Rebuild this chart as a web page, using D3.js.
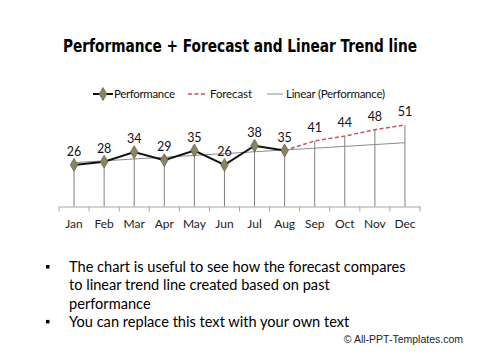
<!DOCTYPE html>
<html>
<head>
<meta charset="utf-8">
<script src="https://cdn.jsdelivr.net/npm/d3@7"></script>
<style>
  html, body { margin: 0; padding: 0; background: #fff; }
  svg { display: block; }
</style>
</head>
<body>
<svg id="chart" width="480" height="360"></svg>
<script>
const months = ["Jan","Feb","Mar","Apr","May","Jun","Jul","Aug","Sep","Oct","Nov","Dec"];
const performance = [26, 28, 34, 29, 35, 26, 38, 35];
const forecastMonths = ["Aug","Sep","Oct","Nov","Dec"];
const forecast = [35, 41, 44, 48, 51];
const legendLabels = ["Performance", "Forecast", "Linear (Performance)"];
const titleText = "Performance + Forecast and Linear Trend line";
const bullets = [
  ["The chart is useful to see how the forecast compares", "to linear trend line created based on past", "performance"],
  ["You can replace this text with your own text"]
];
const credit = "© All-PPT-Templates.com";

const svg = d3.select("#chart");
const bodyFont = "Lato, 'Open Sans', sans-serif";

// title
svg.append("text")
  .attr("x", 240).attr("y", 52)
  .attr("text-anchor", "middle")
  .attr("font-family", "'Liberation Sans Narrow', 'DejaVu Sans Condensed', sans-serif")
  .attr("font-weight", "bold")
  .attr("font-size", 17)
  .attr("textLength", 354)
  .attr("lengthAdjust", "spacingAndGlyphs")
  .attr("fill", "#000")
  .text(titleText);

const x = d3.scaleBand().domain(months).range([59, 420]);
const y = d3.scaleLinear().domain([0, 60]).range([206.5, 110.5]);
const cx = m => x(m) + x.bandwidth() / 2;

// linear trend (least squares on performance)
const n = performance.length;
const xs = d3.range(1, n + 1);
const mx = d3.mean(xs), my = d3.mean(performance);
const slope = d3.sum(xs, (v, i) => (v - mx) * (performance[i] - my)) / d3.sum(xs, v => (v - mx) ** 2);
const intercept = my - slope * mx;
const trend = months.map((m, i) => ({ m, v: intercept + slope * (i + 1) }));

// drop lines
const topVals = months.map((m, i) => {
  if (i < performance.length) return { m, v: performance[i] };
  return { m, v: forecast[forecastMonths.indexOf(m)] };
});
svg.append("g").selectAll("line").data(topVals).join("line")
  .attr("x1", d => cx(d.m)).attr("x2", d => cx(d.m))
  .attr("y1", d => y(d.v)).attr("y2", y(0))
  .attr("stroke", "#7f7f7f").attr("stroke-width", 1);

// x axis
const xAxis = d3.axisBottom(x).tickSize(0).tickPadding(13);
const gx = svg.append("g").attr("transform", `translate(0,${y(0)})`).call(xAxis);
gx.select(".domain").attr("stroke", "#a6a6a6");
gx.selectAll("text").attr("font-family", bodyFont).attr("font-size", 12).attr("fill", "#222");
// boundary ticks
svg.append("g").selectAll("line").data(d3.range(months.length + 1)).join("line")
  .attr("x1", i => 59 + i * x.bandwidth()).attr("x2", i => 59 + i * x.bandwidth())
  .attr("y1", y(0)).attr("y2", y(0) + 5)
  .attr("stroke", "#a6a6a6").attr("stroke-width", 1);

// trend line
const line = d3.line().x(d => cx(d.m)).y(d => y(d.v));
svg.append("path").datum(trend).attr("d", line)
  .attr("fill", "none").attr("stroke", "#8c8c8c").attr("stroke-width", 1);

// forecast
svg.append("path").datum(forecastMonths.map((m, i) => ({ m, v: forecast[i] }))).attr("d", line)
  .attr("fill", "none").attr("stroke", "#c9525c").attr("stroke-width", 1.5)
  .attr("stroke-dasharray", "4,2.5");

// performance
const perf = performance.map((v, i) => ({ m: months[i], v }));
svg.append("path").datum(perf).attr("d", line)
  .attr("fill", "none").attr("stroke", "#111").attr("stroke-width", 2);

const diamond = d3.symbol().type(d3.symbolDiamond).size(48);
svg.append("g").selectAll("path").data(perf).join("path")
  .attr("transform", d => `translate(${cx(d.m)},${y(d.v)})`)
  .attr("d", diamond)
  .attr("fill", "#8a8560").attr("stroke", "#6b6647").attr("stroke-width", 0.8);

// data labels
svg.append("g").selectAll("text").data(topVals).join("text")
  .attr("x", d => cx(d.m)).attr("y", d => y(d.v) - 9)
  .attr("text-anchor", "middle")
  .attr("font-family", bodyFont).attr("font-size", 12.5)
  .attr("fill", "#111")
  .text(d => d.v);

// legend
const lg = svg.append("g").attr("font-family", bodyFont).attr("font-size", 11.5).attr("fill", "#111");
const ly = 94;
lg.append("line").attr("x1", 93).attr("x2", 113).attr("y1", ly).attr("y2", ly)
  .attr("stroke", "#111").attr("stroke-width", 2);
lg.append("path").attr("transform", `translate(103,${ly})`).attr("d", diamond)
  .attr("fill", "#8a8560").attr("stroke", "#6b6647").attr("stroke-width", 0.8);
lg.append("text").attr("x", 114).attr("y", ly + 4).attr("textLength", 61).text(legendLabels[0]);
lg.append("line").attr("x1", 188).attr("x2", 207).attr("y1", ly).attr("y2", ly)
  .attr("stroke", "#c9525c").attr("stroke-width", 1.5).attr("stroke-dasharray", "4,2.5");
lg.append("text").attr("x", 210).attr("y", ly + 4).attr("textLength", 42).text(legendLabels[1]);
lg.append("line").attr("x1", 267).attr("x2", 283).attr("y1", ly).attr("y2", ly)
  .attr("stroke", "#8c8c8c").attr("stroke-width", 1);
lg.append("text").attr("x", 286).attr("y", ly + 4).attr("textLength", 99).text(legendLabels[2]);

// bullet text
const bt = svg.append("g").attr("font-family", bodyFont).attr("font-size", 14.6).attr("fill", "#000");
let lineY = 272;
bullets.forEach(b => {
  bt.append("rect").attr("x", 46).attr("y", lineY - 7).attr("width", 3.5).attr("height", 3.5).attr("fill", "#000");
  b.forEach(t => {
    bt.append("text").attr("x", 69).attr("y", lineY).text(t);
    lineY += 18.3;
  });
});

svg.append("text").attr("x", 463).attr("y", 343)
  .attr("text-anchor", "end")
  .attr("font-family", "'Liberation Sans', Arial, sans-serif")
  .attr("font-size", 10.5).attr("fill", "#222")
  .text(credit);
</script>
</body>
</html>
